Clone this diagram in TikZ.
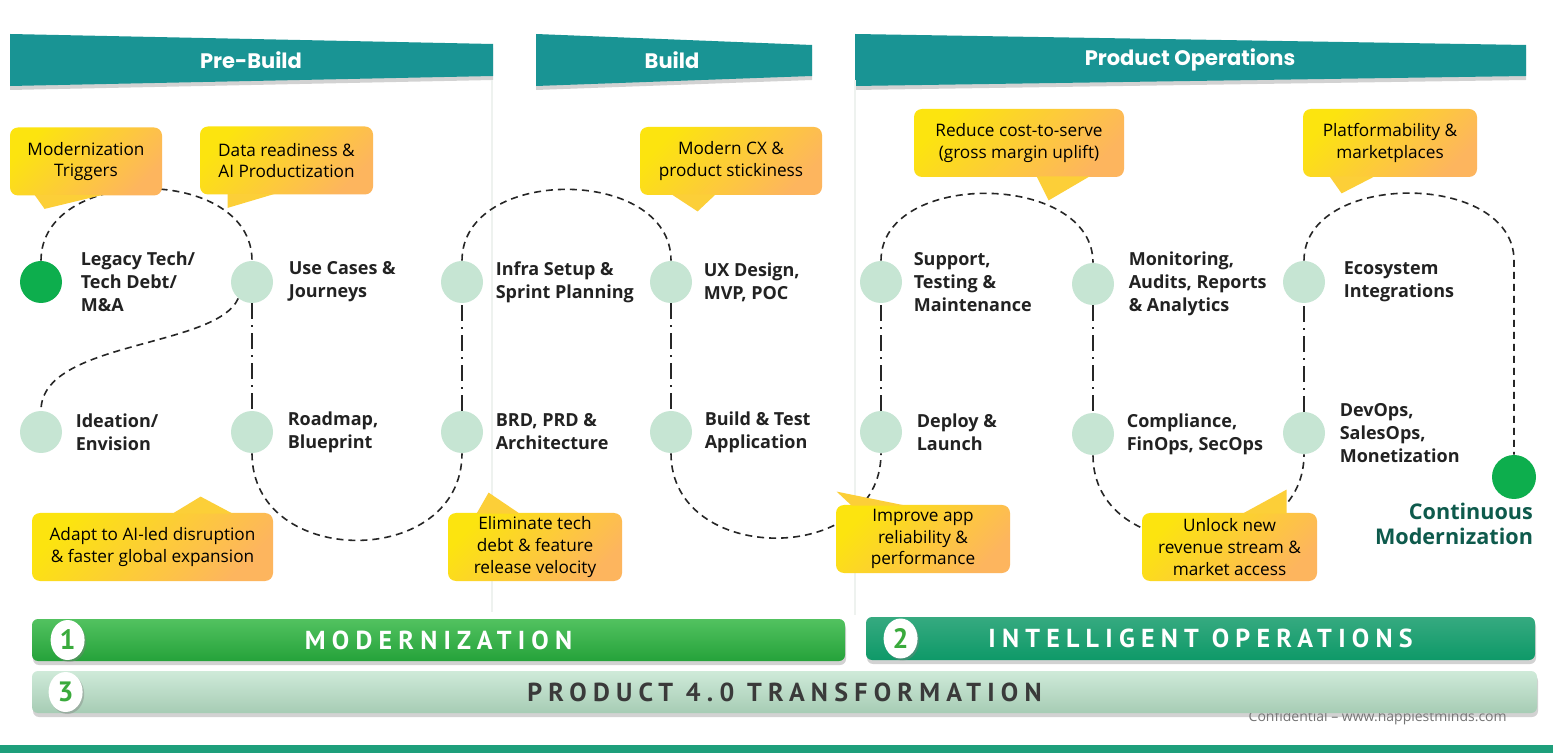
\documentclass[tikz,border=0pt]{standalone}
\usepackage{fontspec}
\setmainfont{Open Sans}
\newfontfamily\headfont{Poppins}
\newfontfamily\barfont[LetterSpace=24]{PT Sans}
\newfontfamily\numfont{PT Sans}
\usetikzlibrary{positioning, shapes.geometric, shadows, calc}

\definecolor{hdrTeal}{HTML}{199494}
\definecolor{stageGreen}{HTML}{C6E5D3}
\definecolor{mileGreen}{HTML}{0DAE4D}
\definecolor{lblGray}{HTML}{222222}
\definecolor{contGreen}{HTML}{0E5A4C}
\definecolor{callY}{HTML}{FCE40F}
\definecolor{callO}{HTML}{FDB55E}
\definecolor{callT}{HTML}{FCCF38}
\definecolor{modTop}{HTML}{52C260}
\definecolor{modBot}{HTML}{25A23A}
\definecolor{opsTop}{HTML}{36AA80}
\definecolor{opsBot}{HTML}{0E9968}
\definecolor{pTop}{HTML}{CFEAD9}
\definecolor{pBot}{HTML}{A6CCB4}
\definecolor{pText}{HTML}{3A3A3A}
\definecolor{numGreen}{HTML}{3AAA3C}
\definecolor{stripTeal}{HTML}{1E9F7B}
\definecolor{divGray}{HTML}{EEF2EF}

\begin{document}
\begin{tikzpicture}[
    x=0.5pt, y=-0.5pt,
    banner/.style={fill=hdrTeal, drop shadow={shadow xshift=0pt, shadow yshift=-2pt, opacity=.35}},
    bannertxt/.style={text=white, inner sep=0pt, font=\headfont\bfseries\fontsize{10.5}{12}\selectfont},
    stage/.style={circle, fill=stageGreen, minimum size=21pt, inner sep=0pt},
    milestone/.style={stage, fill=mileGreen},
    lbl/.style={font=\bfseries\fontsize{9}{11.5}\selectfont, text=lblGray, align=left, inner sep=0pt},
    contlbl/.style={font=\bfseries\fontsize{10.8}{12.5}\selectfont, text=contGreen, align=right, inner sep=0pt},
    callout/.style={rounded corners=4pt, top color=callY, bottom color=callO, shading angle=45, font=\fontsize{8.6}{10.8}\selectfont, align=center, inner sep=0pt, minimum width=#1, minimum height=34pt},
    tail/.style={fill=callT},
    arcline/.style={draw=black!85, line width=0.8pt, dash pattern=on 3.5pt off 2.5pt},
    vline/.style={draw=black!85, line width=0.8pt, dash pattern=on 8pt off 3pt on 1pt off 3pt},
    divider/.style={draw=divGray, line width=0.6pt},
    bar/.style={rounded corners=3pt, minimum height=21pt, inner sep=0pt, font=\barfont\bfseries\fontsize{13}{14}\selectfont, drop shadow={shadow xshift=0.5pt, shadow yshift=-2pt, opacity=.35}},
    badge/.style={ellipse, fill=white, minimum width=17pt, minimum height=20pt, inner sep=0pt, text=numGreen, font=\numfont\bfseries\fontsize{14}{15}\selectfont, drop shadow={shadow xshift=0.8pt, shadow yshift=-1pt, opacity=.4}},
    conf/.style={text=black!55, inner sep=0pt, font=\fontsize{7}{8}\selectfont},
]
\useasboundingbox (0,0) rectangle (1553,753);
\fill[white] (0,0) rectangle (1553,753);

% phase banners
\fill[banner] (10,34) -- (493,44) -- (493,76) -- (10,86) -- cycle;
\node[bannertxt] (prebuild) at (251,60) {Pre-Build};
\fill[banner] (536,34) -- (812,45) -- (812,76) -- (536,86) -- cycle;
\node[bannertxt] (build) at (672,60) {Build};
\fill[banner] (855,34) -- (1526,45) -- (1526,76) -- (855,86) -- cycle;
\node[bannertxt] (prodops) at (1190,60) {Product Operations};

\draw[divider] (492,80) -- (492,612);
\draw[divider] (855,80) -- (855,615);

% stages
\node[milestone] (legacy) at (41,282) {};
\node[stage] (usecase) at (252,282) {};
\node[stage] (ideation) at (41,432) {};
\node[stage] (roadmap) at (252,432) {};
\node[stage] (infra) at (462,282) {};
\node[stage] (brd) at (462,432) {};
\node[stage] (ux) at (671,282) {};
\node[stage] (buildtest) at (671,432) {};
\node[stage] (support) at (881,282) {};
\node[stage] (deploy) at (881,432) {};
\node[stage] (monitor) at (1093,284) {};
\node[stage] (comply) at (1093,434) {};
\node[stage] (eco) at (1304,282) {};
\node[stage] (devops) at (1304,433) {};
\node[milestone, minimum size=22pt] (cont) at (1514,477) {};

\node[lbl, right=9pt of legacy] (legacyT) {Legacy Tech/\\Tech Debt/\\M\&A};
\node[lbl, right=7.5pt of usecase] (usecaseT) {Use Cases \&\\Journeys};
\node[lbl, right=6.5pt of ideation] (ideationT) {Ideation/\\Envision};
\node[lbl, right=7pt of roadmap] (roadmapT) {Roadmap,\\Blueprint};
\node[lbl, right=6pt of infra] (infraT) {Infra Setup \&\\Sprint Planning};
\node[lbl, right=6pt of brd] (brdT) {BRD, PRD \&\\Architecture};
\node[lbl, right=5.5pt of ux] (uxT) {UX Design,\\MVP, POC};
\node[lbl, right=6pt of buildtest] (buildtestT) {Build \& Test\\Application};
\node[lbl, right=5.5pt of support] (supportT) {Support,\\Testing \&\\Maintenance};
\node[lbl, right=7pt of deploy] (deployT) {Deploy \&\\Launch};
\node[lbl, right=7pt of monitor] (monitorT) {Monitoring,\\Audits, Reports\\\& Analytics};
\node[lbl, right=6pt of comply] (complyT) {Compliance,\\FinOps, SecOps};
\node[lbl, right=9pt of eco] (ecoT) {Ecosystem\\Integrations};
\node[lbl, right=7pt of devops] (devopsT) {DevOps,\\SalesOps,\\Monetization};
\node[contlbl, anchor=north east] (contT) at ($(cont.south east)+(3.5,10)$) {Continuous\\Modernization};

% journey path
\draw[arcline] (legacy.north) .. controls +(0,-96) and +(0,-96) .. (usecase.north);
\draw[arcline] (usecase.230) .. controls +(-22,50) and +(0,-70) .. (ideation.north);
\draw[vline] (usecase) -- (roadmap);
\draw[arcline] (roadmap.south) .. controls +(0,116) and +(0,116) .. (brd.south);
\draw[vline] (brd) -- (infra);
\draw[arcline] (infra.north) .. controls +(0,-95) and +(0,-95) .. (ux.north);
\draw[vline] (ux) -- (buildtest);
\draw[arcline] (buildtest.south) .. controls +(0,113) and +(0,113) .. (deploy.south);
\draw[vline] (deploy) -- (support);
\draw[arcline] (support.north) .. controls +(0,-91) and +(0,-91) .. (monitor.north);
\draw[vline] (monitor) -- (comply);
\draw[arcline] (comply.south) .. controls +(0,113) and +(0,113) .. (devops.south);
\draw[vline] (devops) -- (eco);
\draw[arcline] (eco.north) .. controls +(0,-90) and +(0,-90) .. (eco.north -| cont.north) -- (cont.north);

% callouts
\node[callout=76pt] (trig) at (86,161.5) {Modernization\\Triggers};
\fill[tail] ($(trig.south west)+(25,-1)$) -- ($(trig.south west)+(35,13)$) -- ($(trig.south west)+(93,-1)$) -- cycle;
\node[callout=86.5pt] (data) at (286.5,160.5) {Data readiness \&\\AI Productization};
\fill[tail] ($(data.south west)+(28,-1)$) -- ($(data.south west)+(28,13)$) -- ($(data.south west)+(75,-1)$) -- cycle;
\node[callout=120.5pt] (adapt) at (152.5,547) {Adapt to AI-led disruption\\\& faster global expansion};
\fill[tail] ($(adapt.north west)+(141,1)$) -- ($(adapt.north west)+(169,-16)$) -- ($(adapt.north west)+(201,1)$) -- cycle;
\node[callout=87pt] (elim) at (535,547) {Eliminate tech\\debt \& feature\\release velocity};
\fill[tail] ($(elim.north west)+(29,1)$) -- ($(elim.north west)+(41,-20)$) -- ($(elim.north west)+(72,1)$) -- cycle;
\node[callout=91pt] (cx) at (731,161) {Modern CX \&\\product stickiness};
\fill[tail] ($(cx.south west)+(32,-1)$) -- ($(cx.south west)+(58,16)$) -- ($(cx.south west)+(76,-1)$) -- cycle;
\node[callout=87pt] (improve) at (923,539) {Improve app\\reliability \&\\performance};
\fill[tail] ($(improve.north west)+(16,1)$) -- ($(improve.north west)+(1,-13)$) -- ($(improve.north west)+(70,1)$) -- cycle;
\node[callout=87.5pt] (unlock) at (1229.5,547) {Unlock new\\revenue stream \&\\market access};
\fill[tail] ($(unlock.north west)+(101,1)$) -- ($(unlock.north west)+(145,-23)$) -- ($(unlock.north west)+(145,1)$) -- cycle;
\node[callout=105pt] (reduce) at (1019,143) {Reduce cost-to-serve\\(gross margin uplift)};
\fill[tail] ($(reduce.south west)+(123,-1)$) -- ($(reduce.south west)+(135,23)$) -- ($(reduce.south west)+(176,-1)$) -- cycle;
\node[callout=87pt] (platform) at (1390,143) {Platformability \&\\marketplaces};
\fill[tail] ($(platform.south west)+(27,-1)$) -- ($(platform.south west)+(39,16)$) -- ($(platform.south west)+(72,-1)$) -- cycle;

% outcome bars
\node[conf, anchor=east] (confid) at (1507,718) {Confidential – www.happiestminds.com};
\node[bar, minimum width=406.5pt, top color=modTop, bottom color=modBot, text=white] (modBar) at (438.5,640) {MODERNIZATION};
\node[badge] (one) at ([xshift=18pt]modBar.west) {1};
\node[bar, minimum width=334.5pt, minimum height=21.5pt, top color=opsTop, bottom color=opsBot, text=white] (opsBar) at (1200.5,638.5) {INTELLIGENT OPERATIONS};
\node[badge] (two) at ([xshift=17.5pt]opsBar.west) {2};
\node[bar, minimum width=752.5pt, top color=pTop, bottom color=pBot, text=pText] (pBar) at (784.5,692) {PRODUCT 4.0 TRANSFORMATION};
\node[badge] (three) at ([xshift=17pt]pBar.west) {3};

\fill[stripTeal] (0,745) rectangle (1553,753);
\end{tikzpicture}
\end{document}
